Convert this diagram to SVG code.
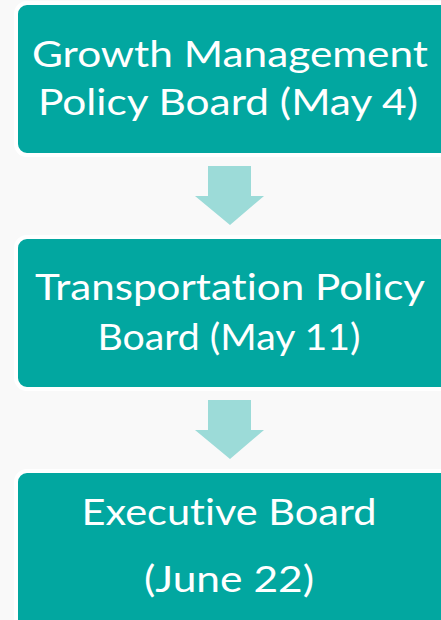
<svg xmlns="http://www.w3.org/2000/svg" width="441" height="620" viewBox="0 0 441 620">
<style>
.box{fill:#02a7a0;stroke:#ffffff;stroke-width:4}
.lbl{fill:#ffffff;font-family:Lato,"Open Sans","Liberation Sans",sans-serif;font-size:36px;font-weight:400;text-anchor:middle;font-variant-ligatures:none}
.arr{fill:#9cdbd8}
</style>
<rect x="0" y="0" width="441" height="620" fill="#f9f9f9"/>
<g id="connectors">
<polygon class="arr" points="208,166 251,166 251,196 264,196 230,225 195,196 208,196"/>
<polygon class="arr" points="208,400 251,400 251,430 264,430 230,459 195,430 208,430"/>
</g>
<g id="node1">
<rect class="box" x="16" y="3" width="436" height="152" rx="11"/>
<text class="lbl" x="230" y="67" textLength="396" lengthAdjust="spacingAndGlyphs">Growth Management</text>
<text class="lbl" x="228" y="115" textLength="380" lengthAdjust="spacingAndGlyphs">Policy Board (May 4)</text>
</g>
<g id="node2">
<rect class="box" x="16" y="237" width="436" height="152" rx="11"/>
<text class="lbl" x="230" y="300" textLength="390" lengthAdjust="spacingAndGlyphs">Transportation Policy</text>
<text class="lbl" x="229" y="350" textLength="263" lengthAdjust="spacingAndGlyphs">Board (May 11)</text>
</g>
<g id="node3">
<rect class="box" x="16" y="471" width="436" height="160" rx="11"/>
<text class="lbl" x="229" y="525" textLength="295" lengthAdjust="spacingAndGlyphs">Executive Board</text>
<text class="lbl" x="229" y="592" textLength="170" lengthAdjust="spacingAndGlyphs">(June 22)</text>
</g>
</svg>
